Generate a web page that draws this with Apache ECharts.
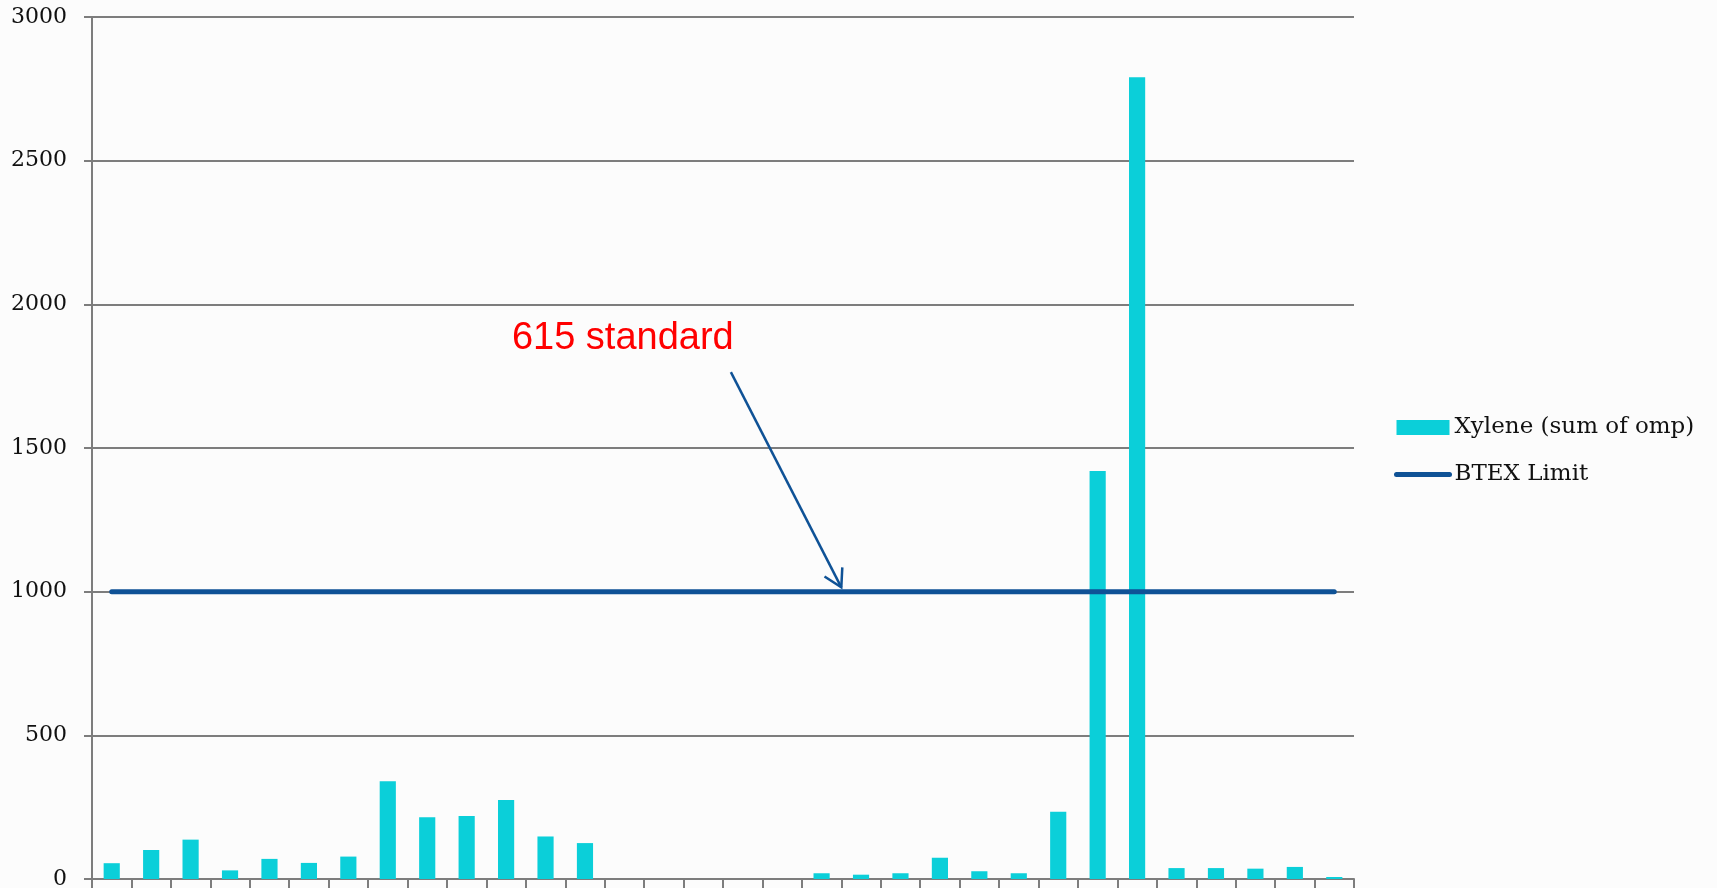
<!DOCTYPE html>
<html>
<head>
<meta charset="utf-8">
<script src="https://cdn.jsdelivr.net/npm/echarts@6/dist/echarts.min.js"></script>
<style>
  html, body { margin: 0; padding: 0; background: #fcfcfc; }
  #main { width: 1717px; height: 888px; }
</style>
</head>
<body>
<div id="main"></div>
<script>
// sample points along the x axis (no labels shown in the original)
var samples = ['1', '2', '3', '4', '5', '6', '7', '8', '9', '10', '11', '12', '13', '14', '15', '16',
    '17', '18', '19', '20', '21', '22', '23', '24', '25', '26', '27', '28', '29', '30', '31', '32']
var xylene = [55, 101, 137, 30, 70, 56, 78, 340, 215, 219, 275, 148, 125, null, null, null,
    null, null, 20, 15, 20, 74, 27, 20, 234, 1420, 2790, 38, 38, 36, 42, 7]
var btexLimit = [1000, 1000, 1000, 1000, 1000, 1000, 1000, 1000, 1000, 1000, 1000, 1000, 1000, 1000, 1000, 1000,
    1000, 1000, 1000, 1000, 1000, 1000, 1000, 1000, 1000, 1000, 1000, 1000, 1000, 1000, 1000, 1000]
var yTicks = { min: 0, max: 3000, interval: 500 }

// annotation, in data units: [sample index, value]
var noteText = '615 standard'
var noteAt = [12.96, 1881]
var arrowFrom = [15.7, 1764]
var arrowTo = [18.5, 1015]

var chart = echarts.init(document.getElementById('main'))
var gridColor = '#7d7d7d'
var limitColor = '#0f5296'

var option = {
    backgroundColor: '#fcfcfc',
    animation: false,
    grid: {
        left: 92,
        right: 363,
        top: 17,
        bottom: 9,
        containLabel: false,
        outerBoundsMode: 'none'
    },
    legend: {
        orient: 'vertical',
        left: 1389,
        top: 411,
        itemWidth: 53,
        itemHeight: 15,
        itemGap: 24,
        textStyle: {
            fontFamily: 'DejaVu Serif',
            fontSize: 23,
            color: '#111'
        },
        data: [
            { name: 'Xylene (sum of omp)', icon: 'rect' },
            { name: 'BTEX Limit', itemStyle: { opacity: 0 }, lineStyle: { width: 5, color: limitColor, cap: 'round' } }
        ]
    },
    xAxis: {
        type: 'category',
        data: samples,
        boundaryGap: true,
        axisLine: { show: true, lineStyle: { color: gridColor, width: 2 } },
        axisTick: { show: true, length: 10, lineStyle: { color: gridColor, width: 2 } },
        axisLabel: { show: false },
        splitLine: { show: false }
    },
    yAxis: {
        type: 'value',
        min: yTicks.min,
        max: yTicks.max,
        interval: yTicks.interval,
        axisLine: { show: true, onZero: false, lineStyle: { color: gridColor, width: 2 } },
        axisTick: { show: true, length: 8, lineStyle: { color: gridColor, width: 2 } },
        axisLabel: {
            margin: 25,
            align: 'right',
            verticalAlign: 'middle',
            lineHeight: 14,
            fontFamily: 'DejaVu Serif',
            fontSize: 22,
            color: '#111',
            formatter: function (v) { return String(v) }
        },
        splitLine: { show: true, lineStyle: { color: gridColor, width: 2 } }
    },
    series: [{
        name: 'Xylene (sum of omp)',
        type: 'bar',
        data: xylene,
        barWidth: '41%',
        itemStyle: { color: '#0bcfd9' }
    }, {
        name: 'BTEX Limit',
        type: 'line',
        data: btexLimit,
        symbol: 'none',
        showSymbol: false,
        lineStyle: { color: limitColor, width: 5, cap: 'round' },
        itemStyle: { color: limitColor },
        z: 3
    }]
}

chart.setOption(option)

// annotation arrow + label, positioned from data coordinates
// (fractional sample index: interpolate between neighbouring categories)
var toPx = function (p) {
    var i0 = Math.floor(p[0])
    var p0 = chart.convertToPixel({ gridIndex: 0 }, [i0, p[1]])
    var p1 = chart.convertToPixel({ gridIndex: 0 }, [i0 + 1, p[1]])
    return [p0[0] + (p1[0] - p0[0]) * (p[0] - i0), p0[1]]
}
var a = toPx(arrowFrom)
var b = toPx(arrowTo)
var t = toPx(noteAt)
var dx = a[0] - b[0], dy = a[1] - b[1]
var len = Math.sqrt(dx * dx + dy * dy)
var ux = dx / len, uy = dy / len
var headLen = 20, ang = 30 * Math.PI / 180
var h1 = [b[0] + headLen * (ux * Math.cos(ang) - uy * Math.sin(ang)), b[1] + headLen * (ux * Math.sin(ang) + uy * Math.cos(ang))]
var h2 = [b[0] + headLen * (ux * Math.cos(-ang) - uy * Math.sin(-ang)), b[1] + headLen * (ux * Math.sin(-ang) + uy * Math.cos(-ang))]

chart.setOption({
    graphic: [{
        type: 'line',
        shape: { x1: a[0], y1: a[1], x2: b[0], y2: b[1] },
        style: { stroke: limitColor, lineWidth: 2.5 },
        z: 10
    }, {
        type: 'polyline',
        shape: { points: [h1, b, h2] },
        style: { stroke: limitColor, lineWidth: 2.5, fill: null },
        z: 10
    }, {
        type: 'text',
        x: t[0],
        y: t[1],
        style: {
            text: noteText,
            fill: '#ff0000',
            font: '38px "Liberation Sans"',
            align: 'center',
            verticalAlign: 'middle'
        },
        z: 10
    }]
})
</script>
</body>
</html>
